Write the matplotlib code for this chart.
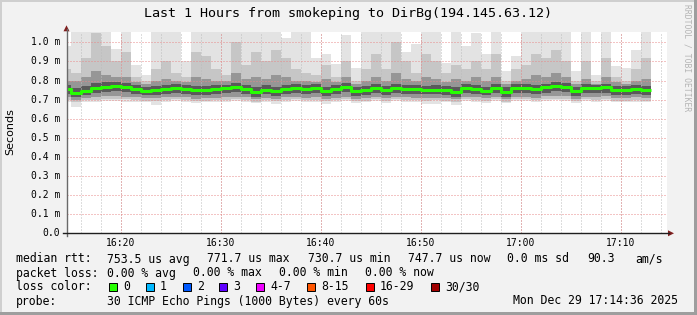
import numpy as np
import matplotlib
matplotlib.use("Agg")
import matplotlib.pyplot as plt
from matplotlib.patches import Rectangle, Polygon

W, H = 697, 315

# time axis in minutes after 16:00, first bar clipped at 16:14:36
x_start = 14.6
x_end = 74.6
bar_edges = np.r_[x_start, np.arange(15, 74)]

# median rtt per minute (ms)
median = [0.755,
          0.733, 0.747, 0.759, 0.768, 0.773, 0.766, 0.757, 0.747, 0.750, 0.757,
          0.761, 0.757, 0.749, 0.750, 0.754, 0.759, 0.766, 0.757, 0.741, 0.752,
          0.744, 0.757, 0.762, 0.755, 0.759, 0.745, 0.755, 0.766, 0.745, 0.750,
          0.761, 0.749, 0.762, 0.757, 0.755, 0.752, 0.752, 0.750, 0.741, 0.762,
          0.757, 0.747, 0.762, 0.741, 0.762, 0.762, 0.755, 0.764, 0.771, 0.768,
          0.745, 0.761, 0.759, 0.764, 0.749, 0.750, 0.757, 0.749]

# smoke: pairs of ping ranks (outer -> inner), ms
hi1 = [0.98,
       1.06, 1.06, 1.06, 1.06, 0.964, 1.06, 0.88, 0.83, 1.06, 1.06,
       1.06, 0.90, 1.06, 1.06, 1.06, 1.06, 1.06, 1.06, 1.06, 1.06,
       1.06, 1.02, 1.06, 1.06, 0.92, 0.94, 0.886, 1.04, 0.864, 1.06,
       1.06, 1.06, 1.06, 0.95, 0.99, 1.06, 1.06, 0.89, 1.06, 0.98,
       1.05, 0.94, 1.06, 0.85, 0.93, 1.06, 1.06, 1.06, 1.06, 1.06,
       0.85, 1.06, 0.83, 1.06, 0.878, 0.864, 0.96, 1.06]
hi2 = [0.86,
       0.84, 0.92, 1.05, 0.98, 0.90, 0.95, 0.82, 0.80, 0.86, 0.90,
       0.84, 0.82, 0.95, 0.93, 0.86, 0.83, 1.00, 0.88, 0.95, 0.90,
       0.96, 0.92, 0.86, 0.84, 0.83, 0.88, 0.82, 0.90, 0.80, 0.86,
       0.94, 0.86, 1.00, 0.90, 0.84, 0.94, 0.90, 0.84, 0.88, 0.86,
       0.90, 0.86, 0.94, 0.80, 0.86, 0.88, 0.94, 0.92, 0.96, 0.90,
       0.80, 0.90, 0.80, 0.92, 0.82, 0.80, 0.86, 0.92]
hi3 = [0.80,
       0.80, 0.82, 0.85, 0.83, 0.82, 0.82, 0.79, 0.78, 0.80, 0.81,
       0.80, 0.79, 0.82, 0.81, 0.80, 0.80, 0.84, 0.81, 0.82, 0.81,
       0.83, 0.82, 0.80, 0.80, 0.79, 0.81, 0.79, 0.82, 0.78, 0.80,
       0.82, 0.80, 0.84, 0.81, 0.80, 0.82, 0.81, 0.79, 0.81, 0.80,
       0.82, 0.80, 0.82, 0.78, 0.80, 0.81, 0.83, 0.82, 0.84, 0.82,
       0.78, 0.81, 0.78, 0.82, 0.79, 0.78, 0.80, 0.81]
hi4 = [0.775,
       0.760, 0.772, 0.785, 0.790, 0.792, 0.785, 0.775, 0.768, 0.772, 0.778,
       0.780, 0.775, 0.770, 0.772, 0.774, 0.778, 0.785, 0.776, 0.764, 0.774,
       0.766, 0.778, 0.782, 0.776, 0.780, 0.768, 0.776, 0.786, 0.766, 0.772,
       0.780, 0.770, 0.782, 0.776, 0.776, 0.772, 0.774, 0.770, 0.764, 0.782,
       0.778, 0.768, 0.782, 0.764, 0.782, 0.782, 0.776, 0.784, 0.790, 0.788,
       0.766, 0.780, 0.778, 0.784, 0.770, 0.770, 0.776, 0.770]
lo4 = [0.728,
       0.712, 0.724, 0.733, 0.740, 0.744, 0.738, 0.730, 0.722, 0.725, 0.731,
       0.734, 0.730, 0.723, 0.725, 0.728, 0.732, 0.738, 0.730, 0.716, 0.727,
       0.719, 0.731, 0.735, 0.729, 0.733, 0.720, 0.729, 0.738, 0.720, 0.725,
       0.734, 0.723, 0.735, 0.730, 0.729, 0.727, 0.727, 0.725, 0.716, 0.735,
       0.730, 0.722, 0.735, 0.716, 0.735, 0.735, 0.729, 0.737, 0.743, 0.740,
       0.720, 0.734, 0.732, 0.737, 0.723, 0.725, 0.730, 0.722]
lo3 = [0.712,
       0.700, 0.708, 0.714, 0.718, 0.720, 0.716, 0.712, 0.706, 0.708, 0.714,
       0.716, 0.712, 0.705, 0.708, 0.710, 0.714, 0.716, 0.712, 0.702, 0.710,
       0.704, 0.712, 0.716, 0.710, 0.714, 0.704, 0.710, 0.716, 0.704, 0.708,
       0.716, 0.706, 0.716, 0.712, 0.710, 0.708, 0.710, 0.708, 0.702, 0.716,
       0.712, 0.706, 0.716, 0.702, 0.716, 0.716, 0.710, 0.718, 0.720, 0.718,
       0.704, 0.716, 0.714, 0.718, 0.706, 0.708, 0.712, 0.706]
lo2 = [0.700,
       0.688, 0.696, 0.700, 0.704, 0.705, 0.702, 0.699, 0.695, 0.694, 0.700,
       0.702, 0.699, 0.693, 0.695, 0.697, 0.700, 0.702, 0.699, 0.690, 0.697,
       0.692, 0.699, 0.702, 0.697, 0.700, 0.692, 0.697, 0.702, 0.692, 0.695,
       0.702, 0.694, 0.702, 0.699, 0.697, 0.694, 0.696, 0.695, 0.688, 0.702,
       0.699, 0.694, 0.702, 0.690, 0.702, 0.702, 0.697, 0.704, 0.705, 0.704,
       0.692, 0.702, 0.700, 0.704, 0.694, 0.695, 0.699, 0.694]
lo1 = [0.686,
       0.663, 0.686, 0.690, 0.694, 0.694, 0.690, 0.688, 0.686, 0.672, 0.690,
       0.693, 0.688, 0.682, 0.686, 0.688, 0.690, 0.693, 0.688, 0.680, 0.686,
       0.676, 0.690, 0.693, 0.686, 0.690, 0.676, 0.686, 0.693, 0.682, 0.686,
       0.693, 0.684, 0.693, 0.689, 0.686, 0.676, 0.676, 0.686, 0.670, 0.693,
       0.689, 0.684, 0.693, 0.680, 0.693, 0.693, 0.686, 0.695, 0.696, 0.695,
       0.682, 0.693, 0.690, 0.695, 0.686, 0.686, 0.689, 0.686]

smoke_colors = ["#e3e3e3", "#c6c6c6", "#969696", "#5a5a5a"]
core_color = "#323232"
core_half = 0.008
median_color = "#26ff00"

x_ticks = [20, 30, 40, 50, 60, 70]
x_labels = ["16:20", "16:30", "16:40", "16:50", "17:00", "17:10"]
y_ticks = [0.0, 0.1, 0.2, 0.3, 0.4, 0.5, 0.6, 0.7, 0.8, 0.9, 1.0]
y_labels = ["0.0", "0.1 m", "0.2 m", "0.3 m", "0.4 m", "0.5 m",
            "0.6 m", "0.7 m", "0.8 m", "0.9 m", "1.0 m"]

title = "Last 1 Hours from smokeping to DirBg(194.145.63.12)"
legend_rows = [
    [(16, "median rtt:"), (107, "753.5 us avg"), (207, "771.7 us max"),
     (308, "730.7 us min"), (408, "747.7 us now"), (507, "0.0 ms sd"),
     (587, "90.3"), (635, "am/s")],
    [(16, "packet loss:"), (107, "0.00 % avg"), (193, "0.00 % max"),
     (279, "0.00 % min"), (365, "0.00 % now")],
    [(16, "loss color:")],
    [(16, "probe:"), (107, "30 ICMP Echo Pings (1000 Bytes) every 60s"),
     (513, "Mon Dec 29 17:14:36 2025")],
]
loss_labels = ["0", "1", "2", "3", "4-7", "8-15", "16-29", "30/30"]
loss_colors = ["#26ff00", "#00b8ff", "#0059ff", "#5e00ff", "#ee00ff",
               "#ff5500", "#ff0000", "#a00000"]
loss_x = [109, 146, 183, 219, 256, 307, 366, 431]

MONO = "DejaVu Sans Mono"

fig = plt.figure(figsize=(W / 100, H / 100), dpi=100, facecolor="#f2f2f2")

# plot area in pixels
left, right, top, bottom = 66.5, 667, 32.3, 233.3
ax = fig.add_axes([left / W, 1 - bottom / H, (right - left) / W, (bottom - top) / H])
ax.set_facecolor("white")
ax.set_xlim(x_start, x_end)
ax.set_ylim(0, (bottom - top) / 191.0)
for s in ax.spines.values():
    s.set_visible(False)
ax.set_xticks([])
ax.set_yticks([])


def stepped(vals):
    return np.r_[vals, vals[-1]]


layers = [(lo1, hi1), (lo2, hi2), (lo3, hi3), (lo4, hi4)]
for (lo, hi), c in zip(layers, smoke_colors):
    ax.fill_between(bar_edges, stepped(lo), stepped(hi), step="post",
                    color=c, lw=0, zorder=1)
med = np.asarray(median)
ax.fill_between(bar_edges, stepped(med - core_half), stepped(med + core_half * 0.4),
                step="post", color=core_color, lw=0, zorder=1)

# grid, rrdtool style dotted
px = 0.72
for m in np.arange(16, 75, 2):
    ax.axvline(m, color="#bcbcbc", lw=px, ls=(0, (1, 2)), zorder=2)
for m in x_ticks:
    ax.axvline(m, color="#e88a8a", lw=px, ls=(0, (1, 2)), zorder=3)
for v in y_ticks[1:]:
    ax.axhline(v, color="#e88a8a", lw=px, ls=(0, (1, 2)), zorder=3)

ax.step(bar_edges, stepped(median), where="post", color=median_color,
        lw=2.2, zorder=4, solid_capstyle="butt")

# overlay in pixel coordinates for text, axes and frame
ov = fig.add_axes([0, 0, 1, 1], facecolor="none")
ov.set_xlim(0, W)
ov.set_ylim(H, 0)
ov.axis("off")

ov.add_patch(Rectangle((0, 0), W, 2, color="#cfcfcf", lw=0))
ov.add_patch(Rectangle((0, 0), 2, H, color="#cfcfcf", lw=0))
ov.add_patch(Rectangle((0, H - 3), W, 3, color="#9e9e9e", lw=0))
ov.add_patch(Rectangle((W - 3, 0), 3, H, color="#9e9e9e", lw=0))

ov.plot([left, left], [bottom + 3, top - 3], color="#6a6a6a", lw=1.0)
ov.plot([left - 4, right + 2], [bottom, bottom], color="#1f1f1f", lw=1.0)
ov.add_patch(Polygon([[left - 3, top - 1], [left + 3, top - 1], [left, top - 7]],
                     closed=True, color="#801f1f", lw=0))
ov.add_patch(Polygon([[right + 1, bottom - 3], [right + 1, bottom + 3], [right + 7, bottom]],
                     closed=True, color="#801f1f", lw=0))

ov.text(W / 2 - 1, 13, title, family=MONO, fontsize=9.6, ha="center", va="center")
ov.text(687, 4, "RRDTOOL / TOBI OETIKER", family=MONO, fontsize=5.8, color="#b4b4b4",
        rotation=270, ha="center", va="top")
ov.text(10, 132, "Seconds", fontsize=8, rotation=90, ha="center", va="center")

for v, lab in zip(y_ticks, y_labels):
    y = bottom - v * 191.0
    ov.text(60, y, lab, family=MONO, fontsize=7, ha="right", va="center")
for m, lab in zip(x_ticks, x_labels):
    x = left + (m - x_start) * (right - left) / (x_end - x_start)
    ov.text(x, 243, lab, family=MONO, fontsize=7, ha="center", va="center")

row_y = [259, 273, 287, 301]
for ry, row in zip(row_y, legend_rows):
    for x, txt in row:
        ov.text(x, ry, txt, family=MONO, fontsize=8.3, ha="left", va="center")
for lx, lab, c in zip(loss_x, loss_labels, loss_colors):
    ov.add_patch(Rectangle((lx, row_y[2] - 4), 8, 8, facecolor=c,
                           edgecolor="black", lw=0.7))
    ov.text(lx + 14, row_y[2], lab, family=MONO, fontsize=8.3, ha="left", va="center")

fig.savefig("out.png", dpi=100, facecolor=fig.get_facecolor())
